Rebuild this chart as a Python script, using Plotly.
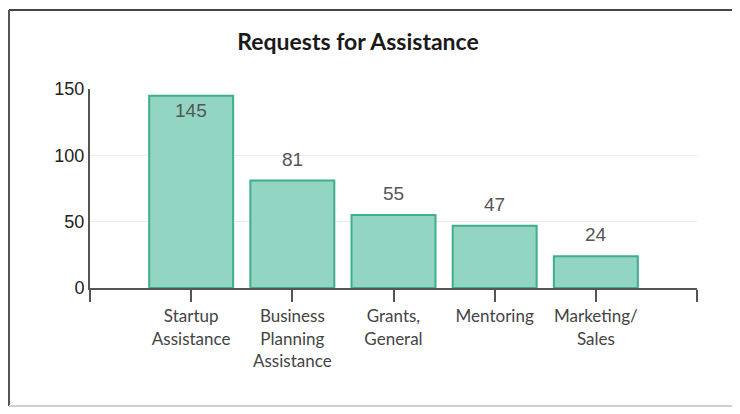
import plotly.graph_objects as go

categories = ["Startup<br>Assistance", "Business<br>Planning<br>Assistance", "Grants,<br>General",
              "Mentoring", "Marketing/<br>Sales"]
values = [145, 81, 55, 47, 24]
y_ticks = [0, 50, 100, 150]
title_text = "Requests for Assistance"

xs = list(range(len(categories)))

# the page body adds an 8px margin, so the figure is laid out 8px smaller
W, H = 732, 406
L, T, R, B = 82, 81, 43, 126

fig = go.Figure()
fig.add_trace(go.Bar(
    x=xs, y=values, width=0.83,
    marker=dict(color="#92d5c3", line=dict(color="#3fae8a", width=2)),
    hoverinfo="skip",
))

# value labels
for xi, v in zip(xs, values):
    inside = v > 140
    fig.add_annotation(
        x=xi, y=v, text=str(v), showarrow=False,
        yanchor="top" if inside else "bottom",
        yshift=-2 if inside else 9,
        font=dict(family="Liberation Sans, Arial, sans-serif", size=19, color="#555555"),
    )

fig.update_layout(
    width=W, height=H,
    margin=dict(l=L, r=R, t=T, b=B),
    paper_bgcolor="white", plot_bgcolor="white",
    showlegend=False,
    title=dict(text="<b>" + title_text + "</b>", x=350 / W, xanchor="center",
               y=1 - 34 / H, yanchor="middle",
               font=dict(family="Lato, Open Sans, sans-serif", size=23, color="#1a1a1a")),
)

fig.update_xaxes(
    range=[-1, len(categories)],
    tickmode="array",
    tickvals=list(range(-1, len(categories) + 1)),
    ticktext=[""] + categories + [""],
    ticks="outside", ticklen=12, tickwidth=2, tickcolor="#555555",
    showline=True, linecolor="#555555", linewidth=2,
    showgrid=False, zeroline=False,
    tickfont=dict(family="Lato, Open Sans, sans-serif", size=17, color="#444444"),
    fixedrange=True,
)
fig.update_yaxes(
    range=[0, 150],
    tickmode="array", tickvals=y_ticks,
    ticks="",
    showline=True, linecolor="#555555", linewidth=2,
    showgrid=True, gridcolor="#ececec", gridwidth=1,
    zeroline=False,
    tickfont=dict(family="Liberation Sans, Arial, sans-serif", size=18, color="#222222"),
    fixedrange=True,
)

# outer frame of the chart
pw, ph = W - L - R, H - T - B
def px_x(p):
    return (p - L) / pw
def px_y(p):
    return (H - B - p) / ph

fig.add_shape(type="line", xref="paper", yref="paper",
              x0=px_x(1), x1=px_x(740), y0=px_y(2), y1=px_y(2),
              line=dict(color="#444444", width=2))
fig.add_shape(type="line", xref="paper", yref="paper",
              x0=px_x(1), x1=px_x(1), y0=px_y(2), y1=px_y(398),
              line=dict(color="#555555", width=2))
fig.add_shape(type="line", xref="paper", yref="paper",
              x0=px_x(1), x1=px_x(740), y0=px_y(398), y1=px_y(398),
              line=dict(color="#cfcfcf", width=2))

fig.write_html("out.html", config={"displayModeBar": False})
